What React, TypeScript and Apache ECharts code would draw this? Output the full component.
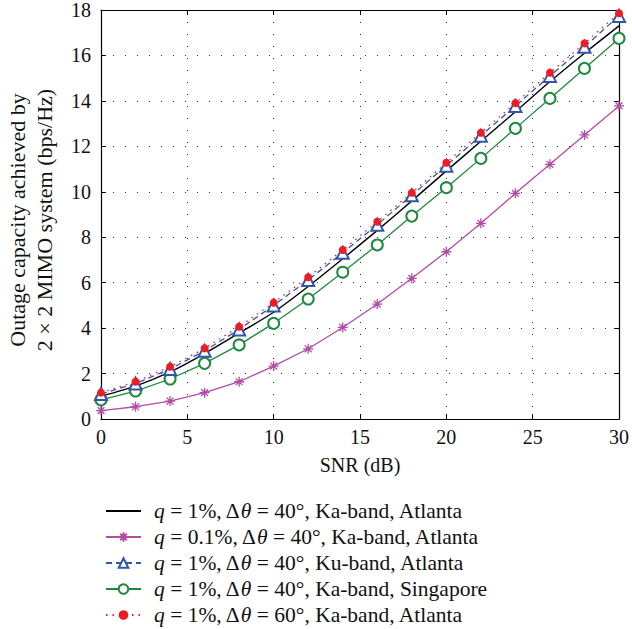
import React, { useEffect, useRef } from "react";
import * as echarts from "echarts";

const snr = [0, 2, 4, 6, 8, 10, 12, 14, 16, 18, 20, 22, 24, 26, 28, 30];

const names = [
  "q = 1%, Δθ = 40°, Ka-band, Atlanta",
  "q = 0.1%, Δθ = 40°, Ka-band, Atlanta",
  "q = 1%, Δθ = 40°, Ku-band, Atlanta",
  "q = 1%, Δθ = 40°, Ka-band, Singapore",
  "q = 1%, Δθ = 60°, Ka-band, Atlanta",
];

const kaAtlanta = [1.0, 1.45, 2.07, 2.88, 3.78, 4.7, 5.83, 7.05, 8.3, 9.6, 10.92, 12.22, 13.52, 14.85, 16.1, 17.3];
const kaAtlantaQ01 = [0.37, 0.54, 0.79, 1.16, 1.64, 2.33, 3.09, 4.03, 5.06, 6.19, 7.36, 8.61, 9.93, 11.21, 12.5, 13.78];
const kuAtlanta = [1.1, 1.56, 2.2, 3.0, 3.94, 5.0, 6.12, 7.32, 8.55, 9.85, 11.15, 12.47, 13.78, 15.1, 16.38, 17.74];
const kaSingapore = [0.84, 1.23, 1.76, 2.45, 3.26, 4.21, 5.28, 6.46, 7.66, 8.93, 10.18, 11.47, 12.79, 14.11, 15.43, 16.75];
const kaAtlanta60 = [1.16, 1.64, 2.3, 3.11, 4.06, 5.12, 6.24, 7.44, 8.68, 9.96, 11.28, 12.6, 13.9, 15.24, 16.53, 17.86];

const xTicks = { min: 0, max: 30, interval: 5 };
const yTicks = { min: 0, max: 18, interval: 2 };

const FONT = "Liberation Serif";
const STAR = "path://M5,0L5,10M0,5L10,5M1.6,1.6L8.4,8.4M1.6,8.4L8.4,1.6";

export default function App() {
  const ref = useRef<HTMLDivElement>(null);
  useEffect(() => {
    if (!ref.current) return;
    const chart = echarts.init(ref.current, null, { renderer: "svg" });
    const grid = { left: 101, right: 12, top: 10, bottom: 210 };
    const gridLine = { show: true, lineStyle: { color: "#333", width: 1, type: [1, 11] as any } };
    const tick = { show: true, inside: true, length: 5, lineStyle: { color: "#000" } };
    const axisLine = { show: true, onZero: false, lineStyle: { color: "#000", width: 1.2 } };
    const label = { fontFamily: FONT, fontSize: 20, color: "#111" };
    const pair = (d: number[]) => snr.map((x, i) => [x, d[i]]);
    const legendBase = {
      orient: "vertical",
      left: 105,
      padding: 0,
      itemWidth: 35,
      itemHeight: 12,
      itemGap: 4,
      formatter: (n: string) => "{s|}" + n.replace("q", "{i|q}").replace("θ", "{i|θ}"),
      textStyle: {
        fontFamily: FONT, fontSize: 21.5, color: "#111",
        rich: {
          s: { width: 8, fontFamily: FONT },
          i: { fontStyle: "italic", fontFamily: FONT, fontSize: 21.5 },
        },
      },
    };
    chart.setOption({
      animation: false,
      backgroundColor: "#fff",
      textStyle: { fontFamily: FONT },
      grid,
      xAxis: [
        {
          type: "value", ...xTicks, axisLine, axisTick: tick, splitLine: gridLine,
          axisLabel: { ...label, margin: 8 },
          name: "SNR (dB)", nameLocation: "middle", nameGap: 36,
          nameTextStyle: { fontFamily: FONT, fontSize: 20, color: "#111" },
        },
        { type: "value", position: "top", ...xTicks, axisLine, axisTick: tick, splitLine: { show: false }, axisLabel: { show: false } },
      ],
      yAxis: [
        { type: "value", ...yTicks, axisLine, axisTick: tick, splitLine: gridLine, axisLabel: { ...label, margin: 10 } },
        { type: "value", position: "right", ...yTicks, axisLine, axisTick: tick, splitLine: { show: false }, axisLabel: { show: false } },
      ],
      legend: [
        {
          ...legendBase,
          top: 500,
          data: names.slice(0, 4).map((n, i) => (i === 0 ? { name: n, itemStyle: { opacity: 0 } } : { name: n })),
        },
        {
          ...legendBase,
          top: 604,
          data: [{ name: names[4] }],
        },
      ],
      graphic: [
        {
          type: "text",
          x: 31,
          y: 220,
          rotation: Math.PI / 2,
          style: {
            text: "Outage capacity achieved by\n2 × 2 MIMO system (bps/Hz)",
            fontFamily: FONT,
            fontSize: 22,
            lineHeight: 27,
            fill: "#111",
            align: "center",
            verticalAlign: "middle",
          },
        },
      ],
      series: [
        {
          name: names[3], type: "line", data: pair(kaSingapore), z: 2,
          symbol: "emptyCircle", symbolSize: 11, showAllSymbol: true,
          lineStyle: { color: "#1e8a3e", width: 1.3 },
          itemStyle: { color: "#1e8a3e", borderColor: "#1e8a3e", borderWidth: 1.4 },
        },
        {
          name: names[1], type: "line", data: pair(kaAtlantaQ01), z: 2,
          symbol: STAR, symbolSize: 10, showAllSymbol: true,
          lineStyle: { color: "#b24ca6", width: 1.3 },
          itemStyle: { color: "#b24ca6", borderColor: "#b24ca6", borderWidth: 1.3 },
        },
        {
          name: names[0], type: "line", data: pair(kaAtlanta), z: 3,
          symbol: "none", smooth: 0.2,
          lineStyle: { color: "#000", width: 1.4 },
          itemStyle: { color: "#000" },
        },
        {
          name: names[2], type: "line", data: pair(kuAtlanta), z: 4,
          symbol: "emptyTriangle", symbolSize: 12, showAllSymbol: true,
          lineStyle: { color: "#3355aa", width: 1.3, type: [6, 4] as any },
          itemStyle: { color: "#3355aa", borderColor: "#3355aa", borderWidth: 1.4 },
        },
        {
          name: names[4], type: "line", data: pair(kaAtlanta60), z: 5,
          symbol: "circle", symbolSize: 8, showAllSymbol: true,
          lineStyle: { color: "#ee1c24", width: 1.3, type: [1.5, 5] as any },
          itemStyle: { color: "#ee1c24" },
        },
      ],
    });
    return () => chart.dispose();
  }, []);
  return (
    <div
      ref={ref}
      style={{ position: "fixed", left: 0, top: 0, width: 632, height: 629, background: "#fff" }}
    />
  );
}
